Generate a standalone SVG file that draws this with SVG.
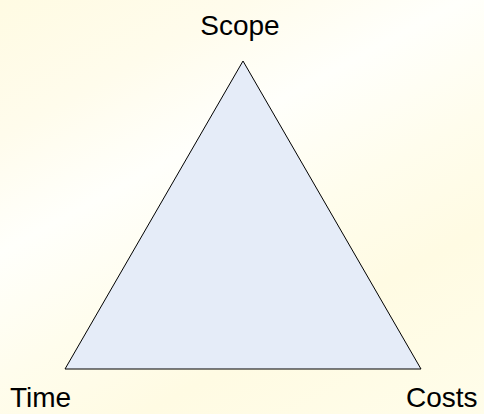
<svg xmlns="http://www.w3.org/2000/svg" width="484" height="414" viewBox="0 0 484 414">
  <defs>
    <linearGradient id="bg" gradientUnits="userSpaceOnUse" x1="0" y1="0" x2="287" y2="526">
      <stop offset="0" stop-color="#fffbe3"/>
      <stop offset="0.2" stop-color="#fffcec"/>
      <stop offset="0.37" stop-color="#fffffb"/>
      <stop offset="0.55" stop-color="#fffded"/>
      <stop offset="0.72" stop-color="#fffbe3"/>
      <stop offset="1" stop-color="#fffdea"/>
    </linearGradient>
    <style>
      .lbl { font-family: "Liberation Sans", Arial, sans-serif; font-size: 28px; fill: #000; }
      .tri { fill: #e5ecf8; stroke: #000; stroke-width: 1; stroke-linejoin: miter; }
    </style>
  </defs>
  <rect x="0" y="0" width="484" height="414" fill="url(#bg)"/>
  <g id="triangle">
    <polygon class="tri" points="243,61 65,369 421,369"/>
  </g>
  <g id="scope">
    <text class="lbl" x="240" y="35" text-anchor="middle">Scope</text>
  </g>
  <g id="time">
    <text class="lbl" x="10" y="407">Time</text>
  </g>
  <g id="costs">
    <text class="lbl" x="406" y="407">Costs</text>
  </g>
  <g id="connectors"></g>
</svg>
